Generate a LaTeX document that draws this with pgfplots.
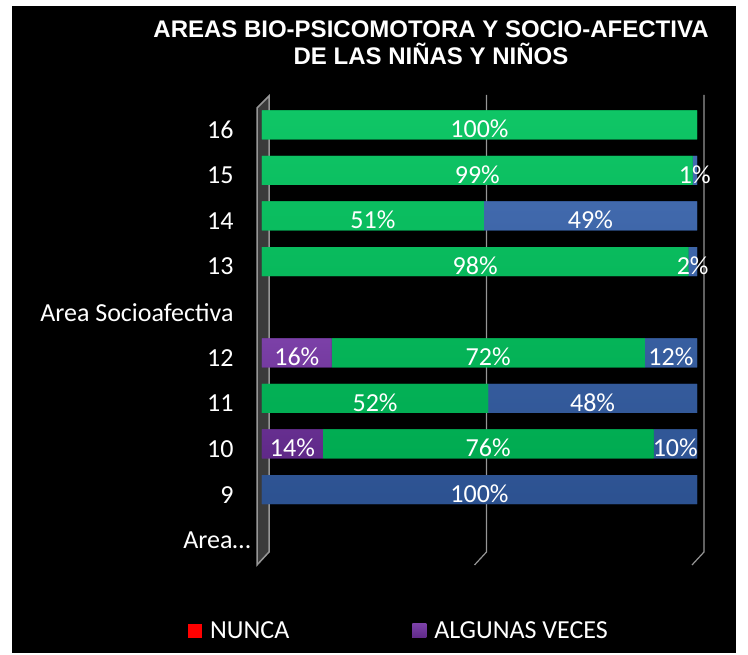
\documentclass[border=0pt]{standalone}
\usepackage{pgfplots}
\pgfplotsset{compat=1.18}
\usepackage{pgfplotstable}
\usepackage{fontspec}
\setmainfont{Carlito}
\newfontfamily\titlefont{Liberation Sans}

\definecolor{cgreen}{RGB}{0,194,92}
\definecolor{cblue}{RGB}{52,96,170}
\definecolor{cpurple}{RGB}{112,48,160}
\definecolor{cred}{RGB}{255,0,0}
\definecolor{wallgray}{RGB}{58,58,58}
\definecolor{linegray}{RGB}{150,150,150}

% rows from bottom (0) to top (9)
\pgfplotstableread{
y nunca algunas green blue
0 0 0 0 0
1 0 0 0 100
2 0 14 76 10
3 0 0 52 48
4 0 16 72 12
5 0 0 0 0
6 0 0 98 2
7 0 0 51 49
8 0 0 99 1
9 0 0 100 0
}\datatable

\pgfplotsset{geom/.style={
  at={(262pt,97pt)}, anchor=south west,
  scale only axis, width=435pt, height=456pt,
  xmin=0, xmax=100, ymin=-0.5, ymax=9.5,
  axis line style={draw=none}, major tick length=0pt,
  xtick=\empty}}

\begin{document}
\begin{tikzpicture}
\fill[white] (0pt,0pt) rectangle (748pt,655pt);
\fill[black] (12pt,2pt) rectangle (736pt,649pt);
\node[text=white, font=\titlefont\bfseries\fontsize{24}{27}\selectfont, align=center]
  at (431pt,612pt) {AREAS BIO-PSICOMOTORA Y SOCIO-AFECTIVA\\DE LAS NIÑAS Y NIÑOS};

% back: 3D wall and gridlines
\begin{axis}[geom, ytick=\empty, clip=false]
\fill[wallgray]
  ([shift={(-5pt,-7pt)}]axis cs:0,-0.5) -- ([shift={(-5pt,-6pt)}]axis cs:0,9.5)
  -- ([shift={(7pt,6pt)}]axis cs:0,9.5) -- ([shift={(7pt,6pt)}]axis cs:0,-0.5) -- cycle;
\draw[linegray, line width=1.5pt]
  ([shift={(-5pt,-7pt)}]axis cs:0,-0.5) -- ([shift={(-5pt,-6pt)}]axis cs:0,9.5)
  -- ([shift={(7pt,6pt)}]axis cs:0,9.5) -- ([shift={(7pt,6pt)}]axis cs:0,-0.5) -- cycle;
\draw[linegray, line width=1.2pt]
  ([shift={(7pt,7pt)}]axis cs:50,9.5) -- ([shift={(7pt,6pt)}]axis cs:50,-0.5) -- ([shift={(-5pt,-7pt)}]axis cs:50,-0.5);
\draw[linegray, line width=1.2pt]
  ([shift={(7pt,7pt)}]axis cs:100,9.5) -- ([shift={(7pt,6pt)}]axis cs:100,-0.5) -- ([shift={(-5pt,-7pt)}]axis cs:100,-0.5);
\end{axis}

\begin{axis}[
  geom,
  xbar stacked, bar width=29pt,
  ytick={0,...,9},
  yticklabels={Area…\hspace*{-17pt}, 9, 10, 11, 12, Area Socioafectiva, 13, 14, 15, 16},
  y tick label style={color=white, font=\fontsize{26}{30}\selectfont, xshift=-25pt, yshift=-5pt},
  /pgf/number format/assume math mode=true,
  lbl/.style={point meta=\thisrow{#1}},
  nodes near coords={\pgfmathfloatifflags{\pgfplotspointmeta}{0}{}{\pgfmathprintnumber{\pgfplotspointmeta}\%}},
  nodes near coords style={text=white, font=\fontsize{26}{30}\selectfont, anchor=center, yshift=-4pt},
  legend image code/.code={\fill[#1] (0pt,-7pt) rectangle (14pt,7pt); \path (20pt,0pt);},
  legend style={at={(0.315,-0.16)}, anchor=center, draw=none, fill=none, text=white,
    font=\fontsize{26}{30}\selectfont, legend columns=2,
    /tikz/every even column/.append style={column sep=121pt}},
]
\addplot[draw=none, fill=cred, lbl=nunca] table[x=nunca, y=y] {\datatable};
\addplot[draw=none, fill=cpurple, top color=cpurple!92!white, middle color=cpurple, bottom color=cpurple!85!black, lbl=algunas] table[x=algunas, y=y] {\datatable};
\addplot[draw=none, fill=cgreen, top color=cgreen!94!white, middle color=cgreen, bottom color=cgreen!88!black, lbl=green] table[x=green, y=y] {\datatable};
\addplot[draw=none, fill=cblue, top color=cblue!92!white, middle color=cblue, bottom color=cblue!85!black, lbl=blue] table[x=blue, y=y] {\datatable};
\legend{NUNCA, ALGUNAS VECES}
\end{axis}
\end{tikzpicture}
\end{document}
